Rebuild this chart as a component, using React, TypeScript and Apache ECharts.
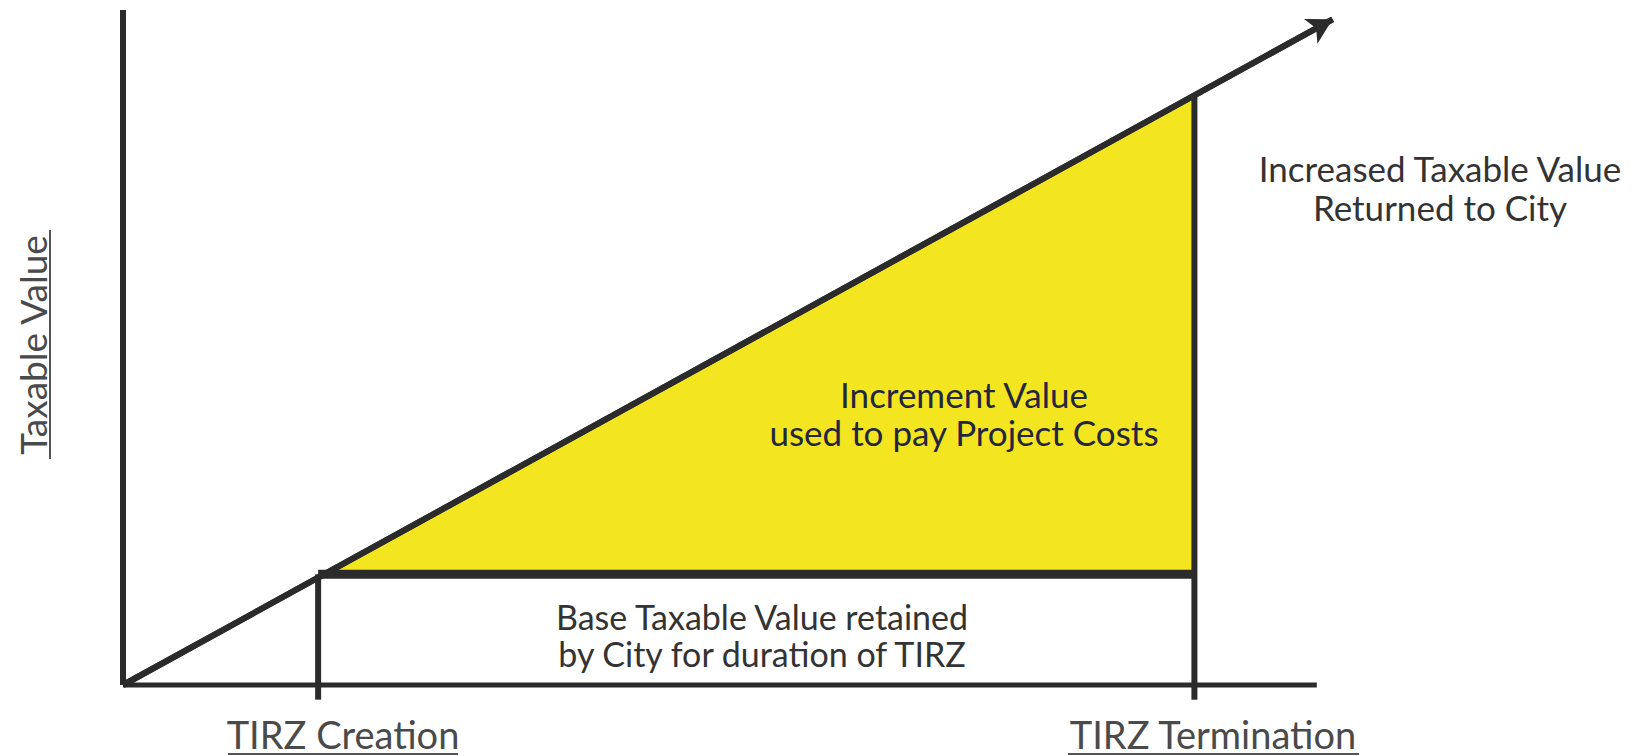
import React, { useEffect, useRef } from "react";
import * as echarts from "echarts";

// ---- data (value space: x 0..100, y 0..100) ----
const axisXLine: number[][] = [[0, 0], [98.5, 0]];
const axisYLine: number[][] = [[0, 0], [0, 101.2]];
const diagonal: number[][] = [[0, 0], [99.8, 99.8]];
const creationX = 16.1;
const terminationX = 88.4;
const baseValue = 16.6;
const tickBottom = -2.2;
const creationLine: number[][] = [[creationX, tickBottom], [creationX, baseValue]];
const terminationLine: number[][] = [[terminationX, tickBottom], [terminationX, terminationX]];
const baseLine: number[][] = [[creationX, baseValue], [terminationX, baseValue]];
const incrementArea: number[][] = [[creationX, creationX], [terminationX, terminationX], [terminationX, baseValue]];

const texts = {
  increased: "Increased Taxable Value\nReturned to City",
  increment: "Increment Value\nused to pay Project Costs",
  base: "Base Taxable Value retained\nby City for duration of TIRZ",
  creation: "TIRZ Creation",
  termination: "TIRZ Termination",
  yName: "Taxable Value",
};

const FONT = 'Lato, "Noto Sans", sans-serif';
const LINE = "#2b2b2b";
const TEXT = "#333333";
const YELLOW = "#f3e620";

function seg(data: number[][], width: number, z = 3) {
  return {
    type: "line",
    data,
    symbol: "none",
    clip: false,
    silent: true,
    z,
    lineStyle: { width, color: LINE, cap: "butt" },
  };
}

export default function App() {
  const ref = useRef<HTMLDivElement>(null);
  useEffect(() => {
    document.body.style.margin = "0";
    const chart = echarts.init(ref.current!, null, { renderer: "svg" });
    const option: any = {
      animation: false,
      backgroundColor: "#ffffff",
      grid: { left: 123, right: 304, top: 18, bottom: 71 },
      xAxis: { type: "value", min: 0, max: 100, show: false },
      yAxis: { type: "value", min: 0, max: 100, show: false },
      series: [
        {
          type: "custom",
          data: [[0, 0]],
          clip: false,
          silent: true,
          z: 1,
          renderItem: (params: any, api: any) => {
            if (params.dataIndex !== 0) return null;
            const pts = incrementArea.map((p) => api.coord(p));
            return { type: "polygon", shape: { points: pts }, style: { fill: YELLOW } };
          },
        },
        seg(axisXLine, 5),
        seg(axisYLine, 6),
        seg(creationLine, 6),
        seg(terminationLine, 6),
        seg(baseLine, 9),
        {
          type: "line",
          data: diagonal,
          symbol: "none",
          clip: false,
          silent: true,
          z: 4,
          lineStyle: { width: 6, color: LINE },
          markLine: {
            silent: true,
            symbol: ["none", "arrow"],
            symbolSize: [21, 25],
            label: { show: false },
            lineStyle: { width: 6, color: LINE, type: "solid" },
            data: [[{ coord: diagonal[0] }, { coord: diagonal[1] }]],
          },
        },
      ],
      graphic: [
        {
          type: "text",
          x: 1440,
          y: 187,
          style: {
            text: texts.increased,
            font: `35px ${FONT}`,
            fill: TEXT,
            align: "center",
            verticalAlign: "middle",
            lineHeight: 39,
          },
        },
        {
          type: "text",
          x: 964,
          y: 413,
          z: 10,
          style: {
            text: texts.increment,
            font: `35px ${FONT}`,
            fill: "#24263f",
            align: "center",
            verticalAlign: "middle",
            lineHeight: 38,
          },
        },
        {
          type: "text",
          x: 762,
          y: 635,
          style: {
            text: texts.base,
            font: `34px ${FONT}`,
            fill: TEXT,
            align: "center",
            verticalAlign: "middle",
            lineHeight: 37,
          },
        },
        {
          type: "text",
          x: 343,
          y: 734,
          style: { text: texts.creation, font: `38px ${FONT}`, fill: "#4a4a4a", align: "center", verticalAlign: "middle" },
        },
        { type: "line", shape: { x1: 228, y1: 754, x2: 458, y2: 754 }, style: { stroke: "#555", lineWidth: 2 } },
        {
          type: "text",
          x: 1213,
          y: 734,
          style: { text: texts.termination, font: `38px ${FONT}`, fill: "#4a4a4a", align: "center", verticalAlign: "middle" },
        },
        { type: "line", shape: { x1: 1068, y1: 754, x2: 1359, y2: 754 }, style: { stroke: "#555", lineWidth: 2 } },
        {
          type: "text",
          x: 32,
          y: 345,
          rotation: Math.PI / 2,
          style: { text: texts.yName, font: `37px ${FONT}`, fill: "#4a4a4a", align: "center", verticalAlign: "middle" },
        },
        { type: "line", shape: { x1: 50, y1: 230, x2: 50, y2: 459 }, style: { stroke: "#555", lineWidth: 2 } },
      ],
    };
    chart.setOption(option);
    return () => chart.dispose();
  }, []);
  return <div ref={ref} style={{ width: 1639, height: 756 }} />;
}
